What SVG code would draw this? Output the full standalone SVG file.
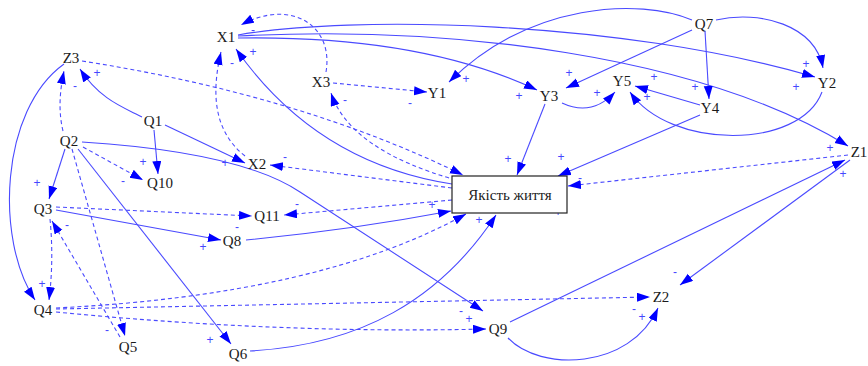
<svg xmlns="http://www.w3.org/2000/svg" width="868" height="366" viewBox="0 0 868 366">
<style>
.n{font-family:"Liberation Serif","Times New Roman",serif;font-size:15px;fill:#1a1a1a;text-anchor:middle}
.l{font-family:"Liberation Sans",Arial,sans-serif;font-size:12px;fill:#4646ff;text-anchor:middle}
.e{stroke:#4a4aff;stroke-width:1.1;fill:none;marker-end:url(#a)}
.d{stroke-dasharray:4 3}
</style>
<defs>
<marker id="a" markerUnits="userSpaceOnUse" markerWidth="14" markerHeight="10" refX="13" refY="4.5" orient="auto">
<path d="M0,0 L13,4.5 L0,9 z" fill="#0000ff"/>
</marker>
</defs>
<rect width="868" height="366" fill="#fff"/>
<g id="connectors">
<path class="e d" d="M326,72 C334,25 290,-2 241,25"/>
<path class="e" d="M238,35 C350,15 620,20 815,77"/>
<path class="e" d="M238,36 C450,25 700,55 848,146"/>
<path class="e" d="M238,38 Q420,35 537,90"/>
<path class="e" d="M692,20 C640,-2 530,2 449,82"/>
<path class="e" d="M692,30 L566,88"/>
<path class="e" d="M705,31 L709,99"/>
<path class="e" d="M716,20 C760,10 815,25 823,68"/>
<path class="e" d="M822,92 C800,150 670,150 630,92"/>
<path class="e" d="M700,105 L635,86"/>
<path class="e" d="M562,103 Q592,117 615,92"/>
<path class="e" d="M545,104 L517,175"/>
<path class="e" d="M700,115 L558,176"/>
<path class="e d" d="M848,155 L568,186"/>
<path class="e" d="M850,160 L680,285"/>
<path class="e" d="M510,322 L845,160"/>
<path class="e" d="M508,338 C540,372 630,370 658,308"/>
<path class="e d" d="M56,309 L650,297"/>
<path class="e d" d="M56,312 Q280,334 486,329"/>
<path class="e d" d="M56,308 Q320,295 466,214"/>
<path class="e" d="M250,351 C360,345 440,300 496,215"/>
<path class="e" d="M246,240 Q350,230 451,211"/>
<path class="e d" d="M452,200 L284,215"/>
<path class="e d" d="M56,207 L252,216"/>
<path class="e" d="M56,210 L221,240"/>
<path class="e d" d="M452,188 L270,165"/>
<path class="e" d="M452,184 Q316,163 236,49"/>
<path class="e d" d="M456,180 Q350,150 331,93"/>
<path class="e d" d="M82,61 Q300,95 463,175"/>
<path class="e d" d="M245,156 C212,130 212,90 221,52"/>
<path class="e" d="M142,117 C125,108 100,100 80,69"/>
<path class="e d" d="M63,131 C58,110 60,90 64,71"/>
<path class="e" d="M165,125 L245,163"/>
<path class="e" d="M154,130 L158,174"/>
<path class="e d" d="M83,147 L143,180"/>
<path class="e" d="M82,142 Q240,152 300,192 L483,311"/>
<path class="e" d="M65,149 L49,199"/>
<path class="e d" d="M72,149 L125,336"/>
<path class="e" d="M78,149 L231,344"/>
<path class="e d" d="M50,219 Q54,260 49,300"/>
<path class="e d" d="M120,337 L52,221"/>
<path class="e" d="M64,64 C0,110 -5,240 35,300"/>
<path class="e d" d="M333,83 L427,92"/>
</g>
<g id="labels">
<text class="l" x="253" y="34">-</text>
<text class="l" x="806" y="68">+</text>
<text class="l" x="796" y="91">+</text>
<text class="l" x="830" y="152">+</text>
<text class="l" x="519" y="100">+</text>
<text class="l" x="466" y="83">+</text>
<text class="l" x="569" y="77">+</text>
<text class="l" x="695" y="91">+</text>
<text class="l" x="647" y="101">+</text>
<text class="l" x="654" y="81">+</text>
<text class="l" x="597" y="97">+</text>
<text class="l" x="508" y="163">+</text>
<text class="l" x="561" y="161">+</text>
<text class="l" x="580" y="182">-</text>
<text class="l" x="675" y="276">-</text>
<text class="l" x="843" y="178">+</text>
<text class="l" x="642" y="321">+</text>
<text class="l" x="634" y="313">-</text>
<text class="l" x="469" y="323">+</text>
<text class="l" x="461" y="315">-</text>
<text class="l" x="479" y="224">+</text>
<text class="l" x="432" y="209">+</text>
<text class="l" x="558" y="216">+</text>
<text class="l" x="297" y="208">-</text>
<text class="l" x="237" y="231">-</text>
<text class="l" x="203" y="251">+</text>
<text class="l" x="285" y="161">-</text>
<text class="l" x="253" y="56">+</text>
<text class="l" x="345" y="104">-</text>
<text class="l" x="232" y="67">-</text>
<text class="l" x="97" y="77">+</text>
<text class="l" x="75" y="90">-</text>
<text class="l" x="225" y="167">+</text>
<text class="l" x="143" y="166">+</text>
<text class="l" x="123" y="185">-</text>
<text class="l" x="37" y="187">+</text>
<text class="l" x="107" y="334">-</text>
<text class="l" x="210" y="344">+</text>
<text class="l" x="42" y="288">+</text>
<text class="l" x="67" y="229">-</text>
<text class="l" x="410" y="107">-</text>
</g>
<g id="n_X1"><text class="n" x="226" y="42">X1</text></g>
<g id="n_Z3"><text class="n" x="71" y="63">Z3</text></g>
<g id="n_Q1"><text class="n" x="153" y="126">Q1</text></g>
<g id="n_Q2"><text class="n" x="69" y="146">Q2</text></g>
<g id="n_X2"><text class="n" x="257" y="169">X2</text></g>
<g id="n_Q10"><text class="n" x="160" y="188">Q10</text></g>
<g id="n_Q3"><text class="n" x="43" y="214">Q3</text></g>
<g id="n_Q11"><text class="n" x="267" y="221">Q11</text></g>
<g id="n_Q8"><text class="n" x="232" y="246">Q8</text></g>
<g id="n_Q4"><text class="n" x="43" y="315">Q4</text></g>
<g id="n_Q5"><text class="n" x="128" y="352">Q5</text></g>
<g id="n_Q6"><text class="n" x="238" y="359">Q6</text></g>
<g id="n_X3"><text class="n" x="321" y="87">X3</text></g>
<g id="n_Y1"><text class="n" x="437" y="98">Y1</text></g>
<g id="n_Y3"><text class="n" x="549" y="101">Y3</text></g>
<g id="n_Q7"><text class="n" x="704" y="29">Q7</text></g>
<g id="n_Y5"><text class="n" x="622" y="86">Y5</text></g>
<g id="n_Y2"><text class="n" x="827" y="88">Y2</text></g>
<g id="n_Y4"><text class="n" x="710" y="113">Y4</text></g>
<g id="n_Z1"><text class="n" x="859" y="157">Z1</text></g>
<g id="n_Q9"><text class="n" x="498" y="334">Q9</text></g>
<g id="n_Z2"><text class="n" x="661" y="302">Z2</text></g>
<g id="n_box"><rect x="452" y="176" width="115" height="37" fill="#fff" stroke="#222" stroke-width="1.2"/><text class="n" x="510" y="200">Якість життя</text></g>
</svg>
